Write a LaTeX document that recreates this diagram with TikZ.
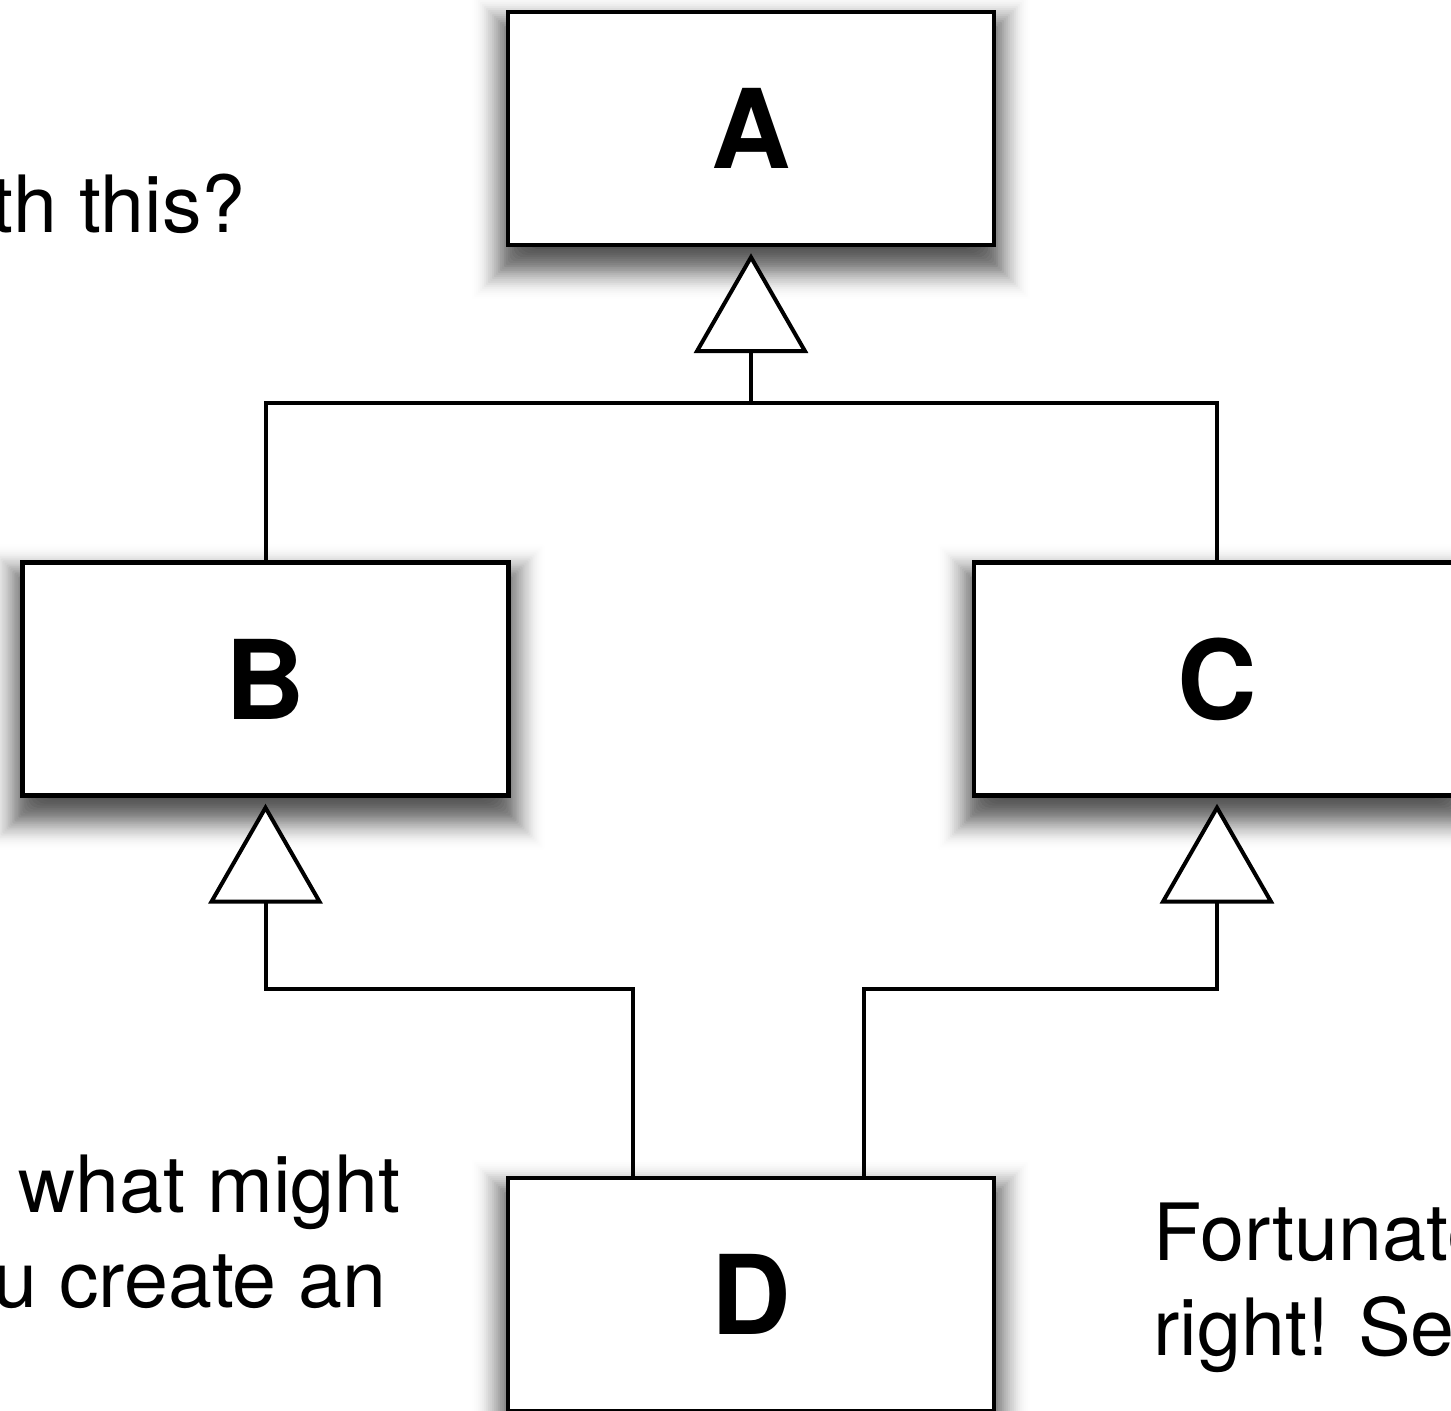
\documentclass[tikz,border=0pt]{standalone}
\usepackage{fontspec}
\setmainfont{TeX Gyre Heros}
\usetikzlibrary{arrows.meta}
\pgfdeclarelayer{shade}
\pgfsetlayers{shade,main}
\begin{document}
\begin{tikzpicture}[x=0.5pt,y=-0.5pt,
  cls/.style={draw, line width=2.2pt, fill=white, minimum width=243pt,
    minimum height=116.5pt, inner sep=0pt,
    font=\fontsize{55}{60}\selectfont\bfseries},
  link/.style={line width=2pt},
  inh/.style={link, -{Triangle[length=50pt, width=57pt, fill=white]},
    shorten >=3pt},
  prose/.style={inner sep=0pt, font=\fontsize{39.5}{48}\selectfont}]
\useasboundingbox (0,0) rectangle (1451,1411);

% classes
\node[cls] (A) at (751,128.5) {A};
\node[cls] (B) at (265.5,679) {B};
\node[cls] (C) at (1217,679) {C};
\node[cls] (D) at (751,1294.5) {D};

% soft drop shadows: stacked translucent rounded rectangles whose
% opacity follows a bell curve, giving a smooth blurred edge
\begin{pgfonlayer}{shade}
  \foreach \n in {A,B,C,D}{
    \foreach \k in {0,...,40}{
      \pgfmathsetmacro\op{0.062*sin(\k*180/40)^2}
      \pgfmathsetmacro\rr{max(20-\k,0)+1}
      \fill[black, fill opacity=\op, rounded corners=\rr pt]
        ([shift={({(20-\k)*1pt},{(20-\k)*1pt-9pt})}]\n.south west)
        rectangle
        ([shift={({(\k-20)*1pt},{(\k-20)*1pt-9pt})}]\n.north east);
    }
  }
\end{pgfonlayer}

% B and C inherit from A
\coordinate (jA) at (751,403);
\draw[link] (B.north) |- (jA) -| (C.north);
\draw[inh] (jA) -- (A.south);

% D inherits from B and C
\coordinate (kD) at (0,989);
\coordinate (dB) at ([xshift=-59pt]D.north);
\coordinate (dC) at ([xshift=56.5pt]D.north);
\draw[inh] (dB) -- (dB |- kD) -| (B.south);
\draw[inh] (dC) -- (dC |- kD) -| (C.south);

% surrounding text
\node[prose, anchor=base east] (t1) at (246,233) {th this?};
\node[prose, anchor=base east] (t2) at (401,1212) {what might};
\node[prose, anchor=base east] (t3) at (387,1307) {ou create an};
\node[prose, anchor=base west] (t4) at (1153,1260) {Fortunate};
\node[prose, anchor=base west] (t5) at (1153,1355) {right! See};
\end{tikzpicture}
\end{document}
